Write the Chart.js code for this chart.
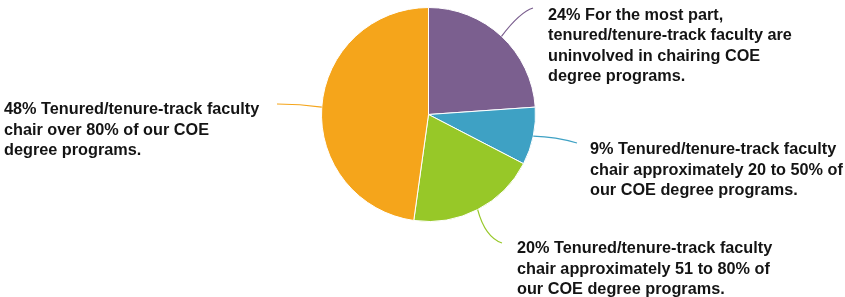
<!DOCTYPE html>
<html>
<head>
<meta charset="utf-8">
<script src="https://cdn.jsdelivr.net/npm/chart.js@4/dist/chart.umd.min.js"></script>
<style>
html,body{margin:0;padding:0;background:#fff;}
#wrap{width:845px;height:297px;}
</style>
</head>
<body>
<div id="wrap"><canvas id="c" width="845" height="297"></canvas></div>
<script>
const categories = [
  "For the most part, tenured/tenure-track faculty are uninvolved in chairing COE degree programs.",
  "Tenured/tenure-track faculty chair approximately 20 to 50% of our COE degree programs.",
  "Tenured/tenure-track faculty chair approximately 51 to 80% of our COE degree programs.",
  "Tenured/tenure-track faculty chair over 80% of our COE degree programs."
];
const values = [23.9, 8.7, 19.6, 47.8];
const percentLabels = ["24%", "9%", "20%", "48%"];
const labelLines = [
  ["24% For the most part,", "tenured/tenure-track faculty are", "uninvolved in chairing COE", "degree programs."],
  ["9% Tenured/tenure-track faculty", "chair approximately 20 to 50% of", "our COE degree programs."],
  ["20% Tenured/tenure-track faculty", "chair approximately 51 to 80% of", "our COE degree programs."],
  ["48% Tenured/tenure-track faculty", "chair over 80% of our COE", "degree programs."]
];
const colors = ["#7B5F8F", "#3EA1C4", "#97C828", "#F5A51B"];

// layout of callouts (text block left / first baseline, leader end, leader control)
const callouts = [
  {tx: 548, ty: 19.5, ex: 533, ey: 8,   cx: 520, cy: 12},
  {tx: 590, ty: 154,  ex: 577, ey: 143, cx: 556, cy: 137},
  {tx: 517, ty: 253,  ex: 502, ey: 243, cx: 485, cy: 237},
  {tx: 4,   ty: 114,  ex: 277, ey: 104, cx: 300, cy: 104}
];

const calloutPlugin = {
  id: 'callouts',
  afterDatasetsDraw(chart) {
    const ctx = chart.ctx;
    const meta = chart.getDatasetMeta(0);
    meta.data.forEach((arc, i) => {
      const p = arc.getProps(['x','y','startAngle','endAngle','outerRadius'], true);
      const mid = (p.startAngle + p.endAngle) / 2;
      const sx = p.x + Math.cos(mid) * p.outerRadius;
      const sy = p.y + Math.sin(mid) * p.outerRadius;
      const c = callouts[i];
      ctx.save();
      ctx.strokeStyle = colors[i];
      ctx.lineWidth = 1.2;
      ctx.beginPath();
      ctx.moveTo(sx, sy);
      ctx.quadraticCurveTo(c.cx, c.cy, c.ex, c.ey);
      ctx.stroke();
      ctx.fillStyle = '#141414';
      ctx.font = 'bold 16.25px "Liberation Sans", Arial, sans-serif';
      ctx.textBaseline = 'alphabetic';
      ctx.textAlign = 'left';
      labelLines[i].forEach((line, k) => {
        ctx.fillText(line, c.tx, c.ty + k * 20.6);
      });
      ctx.restore();
    });
  }
};

new Chart(document.getElementById('c'), {
  type: 'pie',
  data: {
    labels: categories,
    datasets: [{
      data: values,
      backgroundColor: colors,
      borderColor: '#ffffff',
      borderWidth: 1
    }]
  },
  options: {
    responsive: false,
    animation: false,
    layout: {padding: {left: 321, right: 309, top: 7, bottom: 75}},
    plugins: {
      legend: {display: false},
      tooltip: {enabled: false}
    }
  },
  plugins: [calloutPlugin]
});
</script>
</body>
</html>
